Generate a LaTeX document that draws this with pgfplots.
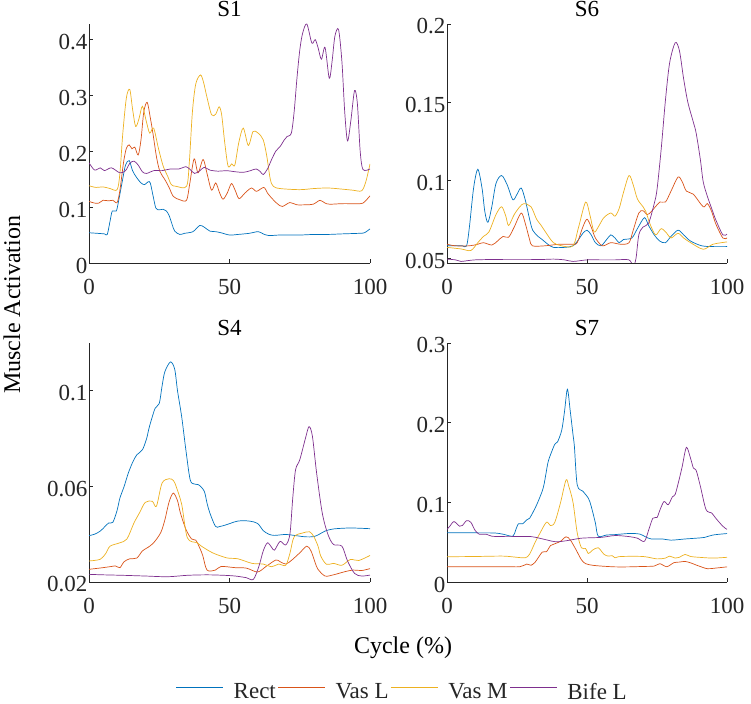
\documentclass[border=0pt]{standalone}
\usepackage{pgfplots}
\pgfplotsset{compat=1.18}
\usepackage{fontspec}
\setmainfont{Liberation Serif}
\definecolor{mblue}{rgb}{0,0.447,0.741}
\definecolor{morange}{rgb}{0.85,0.325,0.098}
\definecolor{myellow}{rgb}{0.929,0.694,0.125}
\definecolor{mpurple}{rgb}{0.494,0.184,0.556}
\definecolor{axgray}{rgb}{0.15,0.15,0.15}
\newcommand\tk{\fontsize{23}{27}\selectfont}
\newcommand\lb{\fontsize{24}{28}\selectfont}
\pgfplotsset{
  myax/.style={
    scale only axis, height=239pt, xmin=0, xmax=100, enlargelimits=false,
    axis x line*=bottom, axis y line*=left,
    x axis line style={-}, y axis line style={-},
    axis line style={axgray, line width=0.6pt},
    tick style={axgray, line width=0.6pt}, major tick length=3.5pt, tick align=inside,
    xtick={0,50,100}, xticklabels={0,50,100},
    /pgf/number format/assume math mode=true,
    tick label style={font=\tk, text=axgray},
    yticklabel style={inner xsep=1.5pt, yshift=-2.5pt},
    xticklabel style={inner ysep=0pt, yshift=-16pt},
    every axis title shift=0pt,
    title style={font=\tk, at={(0.5,1)}, anchor=south, inner sep=0pt, yshift=7pt},
    every axis plot/.append style={line width=0.7pt, smooth, tension=0.5, mark=none},
  }
}
\begin{document}
\begin{tikzpicture}
\useasboundingbox (0,0) rectangle (751pt,703pt);
% S1
\begin{axis}[myax, at={(89pt,440pt)}, anchor=south west, width=281pt,
  title={S1}, ymin=0, ymax=0.427, ytick={0,0.1,0.2,0.3,0.4}, yticklabels={0,0.1,0.2,0.3,0.4}]
\addplot[mblue] coordinates {(0,0.054)(3,0.053)(5.5,0.052)(6.5,0.051)(7.5,0.075)(8.3,0.093)(9.7,0.093)(10.5,0.11)(12,0.15)(13,0.175)(14.3,0.183)(15.5,0.165)(16.9,0.153)(18.5,0.143)(19.8,0.14)(21,0.145)(21.8,0.143)(22.8,0.12)(23.8,0.098)(25,0.095)(26.4,0.096)(27.5,0.093)(28.5,0.085)(29.5,0.07)(30.5,0.057)(32.3,0.051)(34,0.053)(37,0.056)(39.4,0.067)(41,0.064)(43,0.057)(45,0.056)(47,0.054)(50,0.05)(53,0.051)(57,0.053)(60.2,0.056)(62,0.052)(64,0.049)(68,0.05)(75,0.05)(80,0.051)(85,0.051)(90,0.052)(96,0.053)(98,0.054)(100,0.061)};
\addplot[morange] coordinates {(0,0.110)(2,0.107)(3.5,0.107)(5,0.112)(7,0.111)(8.5,0.112)(10,0.108)(11,0.13)(12.3,0.18)(13.3,0.205)(14.3,0.211)(15.3,0.204)(16.3,0.207)(17.5,0.193)(18.5,0.22)(19.5,0.27)(20.7,0.287)(21.8,0.26)(22.8,0.23)(24,0.19)(25.2,0.164)(27,0.149)(28.5,0.135)(30,0.119)(32.3,0.113)(34.7,0.112)(35.8,0.14)(37.4,0.186)(38.8,0.161)(40.6,0.185)(42,0.16)(43.6,0.13)(45.1,0.143)(46.5,0.125)(47.7,0.114)(49.2,0.125)(50.7,0.142)(52,0.13)(53.4,0.115)(55.5,0.125)(57.8,0.134)(59.6,0.128)(62.2,0.135)(63.5,0.125)(65,0.116)(67,0.106)(68.8,0.101)(71.5,0.108)(73.9,0.104)(77,0.104)(79.8,0.105)(82.2,0.112)(84,0.107)(85.7,0.105)(90,0.106)(95,0.106)(97.5,0.107)(100,0.12)};
\addplot[myellow] coordinates {(0,0.138)(2.5,0.135)(5,0.136)(7.5,0.133)(10,0.131)(11,0.16)(12,0.23)(13.3,0.295)(14.5,0.31)(15.5,0.275)(16.6,0.244)(17.8,0.258)(19,0.28)(20.3,0.255)(21.6,0.232)(23,0.241)(24.7,0.205)(26.4,0.173)(28,0.155)(29.3,0.14)(31,0.137)(34.7,0.137)(35.7,0.18)(36.8,0.27)(38,0.32)(39.7,0.336)(40.8,0.322)(41.8,0.30)(43.6,0.265)(45.1,0.266)(46.3,0.279)(47.2,0.265)(48.3,0.215)(49.5,0.173)(50.8,0.177)(51.9,0.175)(53.3,0.215)(54.9,0.241)(56.7,0.21)(58.4,0.235)(60.2,0.232)(62,0.22)(63.3,0.19)(64.5,0.15)(65.6,0.137)(68,0.133)(75,0.131)(80,0.133)(85,0.134)(90,0.132)(94,0.13)(97,0.129)(98.5,0.145)(100,0.177)};
\addplot[mpurple] coordinates {(0,0.179)(2,0.166)(4,0.17)(5.5,0.165)(8,0.17)(11,0.161)(13,0.165)(14.5,0.178)(16,0.182)(17.5,0.175)(19,0.163)(20.5,0.16)(23,0.165)(26,0.165)(29,0.168)(32,0.168)(34.5,0.172)(36,0.167)(37.6,0.16)(39.5,0.165)(41,0.171)(43,0.166)(46,0.164)(49,0.165)(52,0.163)(55,0.162)(57.5,0.165)(59.5,0.168)(61,0.163)(62,0.158)(63.5,0.168)(65,0.185)(66.5,0.2)(68,0.208)(69.5,0.22)(70.5,0.226)(72,0.232)(73,0.27)(74,0.33)(75,0.38)(76,0.41)(77.5,0.427)(79.3,0.393)(80.5,0.399)(81.5,0.385)(82.7,0.364)(84,0.385)(85.5,0.33)(86.5,0.36)(87.5,0.405)(88.8,0.417)(90,0.36)(91,0.27)(92,0.218)(93.2,0.255)(94.5,0.308)(95.5,0.285)(96.5,0.2)(97.5,0.167)(100,0.168)};
\end{axis}
% S6
\begin{axis}[myax, at={(447pt,440pt)}, anchor=south west, width=280pt,
  title={S6}, ymin=0.047, ymax=0.2, ytick={0.05,0.1,0.15,0.2}, yticklabels={0.05,0.1,0.15,0.2}]
\addplot[mblue] coordinates {(0,0.058)(3,0.058)(5.5,0.058)(7,0.058)(8,0.07)(9.5,0.095)(11,0.107)(12.5,0.095)(13.5,0.08)(14.6,0.073)(16,0.083)(17.5,0.098)(19.5,0.103)(21.5,0.097)(23.5,0.0875)(25,0.091)(26.5,0.095)(28,0.087)(29.5,0.075)(30.6,0.068)(32.5,0.064)(34,0.062)(36,0.059)(38,0.057)(42,0.057)(45,0.058)(47,0.062)(48.5,0.066)(50,0.068)(51.5,0.065)(53,0.06)(55,0.058)(57,0.062)(58.5,0.065)(60,0.063)(61.5,0.06)(63,0.062)(66,0.063)(68,0.069)(70.5,0.076)(72,0.071)(74,0.065)(76,0.061)(78,0.06)(80,0.064)(82.5,0.068)(84.5,0.065)(87,0.061)(91,0.058)(95,0.0575)(100,0.0575)};
\addplot[morange] coordinates {(0,0.059)(3,0.058)(8,0.058)(11,0.059)(13,0.06)(16,0.0585)(18,0.061)(20,0.064)(22,0.0635)(24,0.07)(26.5,0.079)(28,0.072)(29.5,0.062)(30.5,0.058)(35,0.058)(40,0.059)(45,0.059)(46.5,0.06)(48.5,0.07)(50,0.075)(51.5,0.07)(53,0.063)(55.5,0.058)(58.5,0.06)(62,0.059)(65,0.06)(66.5,0.068)(68.5,0.079)(70,0.0805)(71.5,0.078)(73,0.08)(76,0.086)(78,0.086)(80,0.093)(82.5,0.102)(84,0.099)(85.5,0.093)(88,0.091)(91.5,0.083)(93,0.085)(94.5,0.08)(96,0.072)(98.5,0.063)(100,0.063)};
\addplot[myellow] coordinates {(0,0.057)(5,0.056)(8.5,0.055)(11,0.06)(13,0.064)(15,0.067)(17.5,0.078)(19.5,0.083)(21,0.077)(22,0.071)(24,0.078)(26,0.083)(27.5,0.085)(30,0.083)(32,0.075)(33.5,0.0714)(35.5,0.066)(38,0.06)(41,0.058)(45,0.058)(47,0.07)(49.5,0.086)(51,0.078)(52.5,0.067)(54,0.07)(56,0.076)(58.5,0.079)(60,0.077)(61.5,0.082)(63,0.092)(65,0.103)(66.5,0.097)(68,0.088)(70,0.083)(71,0.08)(72.5,0.072)(74.5,0.065)(76.5,0.069)(78.5,0.066)(80,0.063)(82.5,0.066)(84.5,0.063)(87,0.06)(91.5,0.0558)(95,0.059)(100,0.0605)};
\addplot[mpurple] coordinates {(0,0.0495)(3,0.049)(5,0.048)(10,0.049)(20,0.0493)(30,0.0493)(35,0.0493)(38,0.0495)(42,0.049)(45,0.048)(50,0.049)(55,0.049)(60,0.049)(65,0.049)(66.5,0.045)(67.5,0.05)(68.5,0.065)(70,0.070)(72,0.0725)(74,0.085)(75,0.094)(76.5,0.12)(78,0.151)(79.5,0.175)(81.5,0.188)(83,0.183)(84.5,0.165)(86,0.15)(88,0.137)(89,0.13)(90.5,0.113)(91.5,0.099)(93,0.0896)(94.5,0.082)(96,0.0746)(98.5,0.065)(100,0.0655)};
\end{axis}
% S4
\begin{axis}[myax, at={(89pt,121pt)}, anchor=south west, width=281pt,
  title={S4}, ymin=0.02, ymax=0.12, ytick={0.02,0.06,0.1}, yticklabels={0.02,0.06,0.1},
  legend columns=4,
  legend image code/.code={\draw[#1, line width=0.7pt] (0pt,5pt) -- (47pt,5pt);},
  legend style={at={(0.3096,-0.4603)}, anchor=west, draw=none, fill=none, inner sep=0pt, outer sep=0pt,
    font=\tk, nodes={inner sep=0pt, text=axgray},
    /tikz/every odd column/.append style={column sep=10pt},
    /tikz/every even column/.append style={column sep=2pt}}]
\addplot[mblue] coordinates {(0,0.0394)(2,0.04)(4,0.0413)(5.5,0.043)(7,0.0447)(8.5,0.045)(10,0.05)(11,0.0551)(12.5,0.06)(14,0.0656)(15.5,0.07)(17,0.0732)(19,0.0753)(20.5,0.08)(21.5,0.085)(23.5,0.0926)(25,0.0947)(26,0.102)(27,0.108)(29,0.1121)(30.5,0.109)(31.5,0.1)(33,0.089)(34.5,0.075)(36,0.0628)(37.5,0.061)(39,0.0607)(41,0.058)(42,0.053)(43,0.0489)(45,0.0433)(46.5,0.0432)(49,0.044)(53,0.0455)(57,0.0455)(60,0.0445)(62,0.0415)(64,0.04)(66,0.0395)(70,0.0399)(73,0.0395)(77,0.0389)(80,0.039)(82,0.040)(84,0.0413)(87,0.0422)(93,0.0426)(100,0.0423)};
\addlegendentry{Rect}
\addplot[morange] coordinates {(0,0.0253)(5,0.026)(8,0.0265)(9.5,0.0267)(11,0.026)(12.5,0.0285)(14.5,0.0297)(17,0.03)(19,0.033)(21,0.0345)(23,0.0364)(25.5,0.0406)(27,0.046)(28.5,0.0535)(30,0.0572)(31.5,0.054)(32.5,0.049)(34.5,0.042)(36.5,0.038)(38,0.0375)(39.5,0.034)(40.5,0.031)(42,0.025)(45,0.025)(47,0.0265)(52,0.026)(56,0.0258)(60,0.0242)(63,0.0265)(66.5,0.0292)(68,0.0285)(70,0.0275)(72,0.029)(75,0.0322)(77.5,0.035)(79,0.033)(80.5,0.028)(81.5,0.0253)(84,0.0225)(87,0.023)(91,0.0243)(94,0.025)(97,0.0248)(100,0.0256)};
\addlegendentry{Vas L}
\addplot[myellow] coordinates {(0,0.0288)(4,0.0295)(6,0.032)(7.5,0.035)(11,0.0364)(13.5,0.038)(16,0.0447)(18,0.049)(20,0.0533)(22.5,0.0538)(24,0.0517)(26,0.0614)(28.5,0.0632)(30,0.0625)(31,0.06)(33,0.0524)(35,0.0385)(38.5,0.0364)(40,0.035)(44,0.0322)(49,0.0301)(53,0.0297)(58,0.0278)(62,0.0275)(65,0.0264)(67.5,0.0275)(70,0.027)(71.5,0.032)(73,0.0389)(76,0.0405)(78.5,0.041)(80,0.039)(81.5,0.035)(82.5,0.0308)(84.5,0.0274)(87,0.0278)(90,0.027)(93,0.0294)(96,0.029)(100,0.0311)};
\addlegendentry{Vas M}
\addplot[mpurple] coordinates {(0,0.0232)(5,0.023)(12,0.0228)(20,0.0225)(28,0.0222)(35,0.0228)(42,0.023)(48,0.0228)(52,0.0225)(56,0.0218)(58.5,0.0211)(60.5,0.0267)(62,0.033)(63.5,0.0364)(65,0.0345)(66,0.0333)(68,0.037)(70,0.0355)(71.5,0.04)(72.5,0.055)(73.5,0.0669)(75,0.0711)(77,0.08)(78.3,0.085)(79.5,0.081)(81,0.0656)(83,0.0489)(85,0.04)(87,0.0357)(90,0.035)(92,0.0288)(94.5,0.0236)(97,0.0225)(100,0.0229)};
\addlegendentry{Bife L}
\end{axis}
% S7
\begin{axis}[myax, at={(447pt,121pt)}, anchor=south west, width=280pt,
  title={S7}, ymin=0, ymax=0.3, ytick={0,0.1,0.2,0.3}, yticklabels={0,0.1,0.2,0.3}]
\addplot[mblue] coordinates {(0,0.0617)(5,0.0617)(10,0.0617)(17,0.0615)(20,0.06)(23.5,0.0575)(24.5,0.065)(25.5,0.073)(27,0.073)(28.5,0.078)(29.5,0.080)(31.5,0.093)(33,0.105)(34.5,0.12)(36,0.149)(37,0.16)(38.5,0.173)(39.5,0.176)(41,0.191)(42,0.215)(43,0.242)(44,0.215)(45,0.185)(45.5,0.17)(46.5,0.122)(48.5,0.114)(50.5,0.105)(51.5,0.095)(53,0.074)(54,0.0575)(57,0.059)(60,0.0595)(63,0.0604)(66,0.061)(69,0.06)(71,0.0565)(73,0.054)(77,0.054)(80,0.0525)(85,0.054)(89,0.055)(92,0.056)(95,0.059)(100,0.0608)};
\addplot[morange] coordinates {(0,0.0192)(10,0.0192)(20,0.0192)(26,0.0192)(28.5,0.0225)(30,0.021)(31.5,0.025)(34,0.0375)(35.5,0.038)(37,0.0458)(38.5,0.048)(40.5,0.051)(42.5,0.0567)(44,0.053)(46,0.041)(48,0.028)(49.5,0.023)(52,0.021)(55,0.02)(60,0.019)(65,0.019)(70,0.0195)(74,0.02)(76,0.023)(78.5,0.0192)(81,0.0242)(83,0.025)(85,0.0258)(87,0.024)(90,0.02)(93,0.0167)(96,0.0175)(100,0.019)};
\addplot[myellow] coordinates {(0,0.0317)(10,0.032)(20,0.0325)(25,0.031)(28,0.0304)(29.5,0.035)(31.5,0.05)(33,0.06)(35.5,0.075)(37,0.0708)(38.5,0.075)(40.5,0.099)(42.5,0.128)(43.5,0.12)(45,0.1)(46.5,0.0617)(48,0.043)(49.5,0.042)(50.5,0.0358)(52,0.04)(54,0.043)(56,0.035)(57.5,0.0325)(59,0.033)(60,0.0304)(62,0.032)(70,0.032)(75,0.029)(78,0.03)(79.5,0.0325)(81.5,0.03)(83,0.031)(85,0.0346)(87,0.032)(90,0.031)(95,0.03)(100,0.031)};
\addplot[mpurple] coordinates {(0,0.066)(1,0.07)(2.5,0.0758)(4.5,0.07)(5.5,0.071)(7,0.077)(8.5,0.075)(10,0.065)(11.5,0.06)(14,0.06)(16,0.0575)(20,0.057)(25,0.057)(30,0.057)(33,0.055)(36,0.0525)(39,0.0504)(43,0.052)(48,0.055)(55,0.056)(60,0.0583)(65,0.057)(68,0.055)(70.5,0.051)(72,0.065)(73.5,0.080)(75,0.081)(76,0.09)(77.5,0.101)(79,0.097)(80.5,0.107)(81.5,0.11)(83,0.13)(84,0.145)(85.5,0.169)(87,0.155)(88,0.143)(89,0.14)(90.5,0.12)(92.5,0.091)(94.5,0.0867)(96,0.08)(98.5,0.07)(100,0.066)};
\end{axis}
\node[rotate=90, font=\lb, text=black] at (12pt,398pt) {Muscle Activation};
\node[font=\lb, text=black] at (403pt,55pt) {Cycle (\%)};
\end{tikzpicture}
\end{document}
